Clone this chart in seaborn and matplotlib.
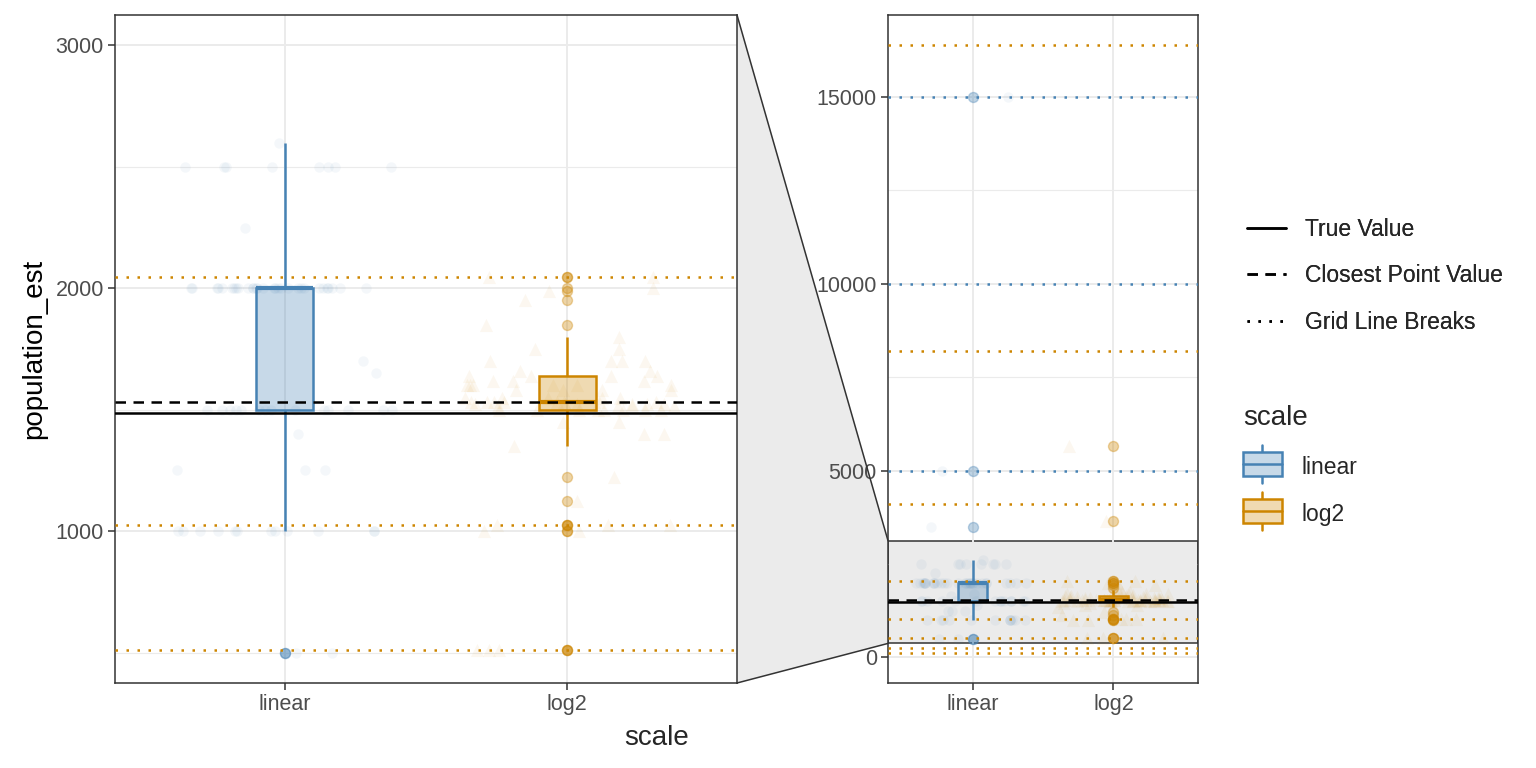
import numpy as np
import pandas as pd
import seaborn as sns
import matplotlib.pyplot as plt
from matplotlib.colors import to_rgba
from matplotlib.lines import Line2D
from matplotlib.patches import Rectangle, Polygon, Patch
from matplotlib.legend_handler import HandlerBase
from matplotlib.ticker import MultipleLocator

# estimates per scale: value + how many answers gave it
scales = ["linear", "log2"]
linear_vals = [500, 1000, 1250, 1400, 1500, 1650, 1700, 2000, 2250, 2500, 2600, 3500, 5000, 15000]
linear_counts = [2, 12, 3, 1, 14, 1, 1, 30, 1, 8, 1, 1, 1, 1]
log2_vals = [512, 1000, 1024, 1125, 1225, 1350, 1400, 1450, 1500, 1515, 1525, 1530, 1550, 1580,
             1600, 1620, 1638, 1660, 1700, 1750, 1800, 1850, 1950, 1990, 2000, 2048, 3650, 5650]
log2_counts = [3, 2, 3, 1, 1, 1, 2, 2, 8, 4, 6, 8, 5, 4, 6, 3, 4, 2, 4, 2, 1, 1, 1, 1, 1, 2, 1, 1]

true_value = 1487
closest_value = 1532
linear_breaks = [5000, 10000, 15000]
log2_breaks = [128, 256, 512, 1024, 2048, 4096, 8192, 16384]
zoom_range = [500, 3000]

colors = {"linear": "#4682B4", "log2": "#CD8500"}
fills = {"linear": "#C7D9E8", "log2": "#F0DAB2"}
markers = {"linear": "o", "log2": "^"}
msize = {"linear": 7.5, "log2": 9.5}
dotted = (0, (1, 3.4))
dashed = (0, (4.2, 3))

df = pd.concat([
    pd.DataFrame({"scale": "linear", "population_est": np.repeat(linear_vals, linear_counts)}),
    pd.DataFrame({"scale": "log2", "population_est": np.repeat(log2_vals, log2_counts)}),
], ignore_index=True)

sns.set_theme(style="white")
plt.rcParams["font.family"] = ["Liberation Sans", "DejaVu Sans"]
np.random.seed(3)

fig = plt.figure(figsize=(15.36, 7.68), dpi=100)
ax_l = fig.add_axes([115 / 1536, 85 / 768, 622 / 1536, 668 / 768])
ax_r = fig.add_axes([888 / 1536, 85 / 768, 310 / 1536, 668 / 768])

grey = "#333333"


def draw_panel(ax):
    for s in scales:
        sub = df[df.scale == s]
        sns.stripplot(data=sub, x="scale", y="population_est", order=scales, color=colors[s],
                      marker=markers[s], size=msize[s], alpha=0.06, jitter=0.4, linewidth=0, ax=ax)
        sns.boxplot(data=sub, x="scale", y="population_est", order=scales, color=fills[s],
                    linecolor=colors[s], saturation=1, width=0.2, linewidth=1.8, showcaps=False,
                    fliersize=7.2,
                    flierprops=dict(marker="o", markerfacecolor=colors[s], markeredgewidth=1,
                                    markeredgecolor=colors[s], alpha=0.35),
                    medianprops=dict(linewidth=3), ax=ax)
    # see-through box fill like the original
    for patch, s in zip(ax.patches, scales):
        patch.set_facecolor(to_rgba(colors[s], 0.3))
    for b in linear_breaks:
        ax.axhline(b, color=colors["linear"], lw=1.8, ls=dotted, zorder=4)
    for b in log2_breaks:
        ax.axhline(b, color=colors["log2"], lw=1.8, ls=dotted, zorder=4)
    ax.axhline(true_value, color="black", lw=1.8, zorder=5)
    ax.axhline(closest_value, color="black", lw=1.8, ls=dashed, zorder=5)

    ax.set_xlim(-0.6, 1.6)
    ax.set_axisbelow(True)
    ax.grid(which="major", color="#EBEBEB", lw=1.4)
    ax.grid(which="minor", axis="y", color="#EBEBEB", lw=0.8)
    for sp in ax.spines.values():
        sp.set_color(grey)
        sp.set_linewidth(1.1)
    ax.tick_params(which="major", direction="out", length=5, width=1.1, color=grey,
                   labelcolor="#4D4D4D", labelsize=15.5, pad=3, left=True, bottom=True)
    ax.tick_params(which="minor", length=0)
    ax.set_xlabel("")
    ax.set_ylabel("")


draw_panel(ax_l)
draw_panel(ax_r)

# zoomed panel
span = zoom_range[1] - zoom_range[0]
zlo, zhi = zoom_range[0] - 0.05 * span, zoom_range[1] + 0.05 * span
ax_l.set_ylim(zlo, zhi)
ax_l.yaxis.set_major_locator(MultipleLocator(1000))
ax_l.yaxis.set_minor_locator(MultipleLocator(500))
ax_l.set_ylabel("population_est", fontsize=20, color="black", labelpad=6)

# full panel
all_y = list(df.population_est) + log2_breaks + linear_breaks
lo, hi = min(all_y), max(all_y)
ax_r.set_ylim(lo - 0.05 * (hi - lo), hi + 0.05 * (hi - lo))
ax_r.yaxis.set_major_locator(MultipleLocator(5000))
ax_r.yaxis.set_minor_locator(MultipleLocator(2500))
ax_r.axhspan(zlo, zhi, facecolor="#EBEBEB", edgecolor=grey, lw=1.1, zorder=0.3)

# connector between the panels
to_fig = fig.transFigure.inverted()
p_top = to_fig.transform(ax_l.transAxes.transform((1, 1)))
p_bot = to_fig.transform(ax_l.transAxes.transform((1, 0)))
q_top = to_fig.transform(ax_r.transData.transform((ax_r.get_xlim()[0], zhi)))
q_bot = to_fig.transform(ax_r.transData.transform((ax_r.get_xlim()[0], zlo)))
fig.add_artist(Polygon([p_top, q_top, q_bot, p_bot], closed=True, facecolor="#EBEBEB",
                       edgecolor="none", transform=fig.transFigure, zorder=0))
for a, b in [(p_top, q_top), (p_bot, q_bot)]:
    fig.add_artist(Line2D([a[0], b[0]], [a[1], b[1]], color=grey, lw=1.1,
                          transform=fig.transFigure))

fig.text(656.5 / 1536, 1 - 738 / 768, "scale", ha="center", va="center", fontsize=20)


class BoxKey(HandlerBase):
    def create_artists(self, legend, orig, xd, yd, w, h, fontsize, trans):
        ec, fc = orig.get_edgecolor(), orig.get_facecolor()
        x0 = -xd
        xm = x0 + w / 2
        yc = (h - yd) / 2
        H = 1.66 * fontsize
        bh = 0.63 * H
        return [
            Line2D([xm, xm], [yc - H / 2, yc + H / 2], color=ec, lw=1.8, transform=trans),
            Rectangle((x0, yc - bh / 2), w, bh, facecolor=fc, edgecolor=ec, lw=1.8,
                      transform=trans),
            Line2D([x0, x0 + w], [yc, yc], color=ec, lw=1.8, transform=trans),
        ]


line_handles = [
    Line2D([], [], color="black", lw=1.8),
    Line2D([], [], color="black", lw=1.8, ls=dashed),
    Line2D([], [], color="black", lw=1.8, ls=dotted),
]
leg1 = fig.legend(line_handles, ["True Value", "Closest Point Value", "Grid Line Breaks"],
                  loc="upper left", bbox_to_anchor=(1247 / 1536, 1 - 218 / 768), frameon=False,
                  fontsize=16.5, handlelength=1.7, handletextpad=0.85, labelspacing=1.02,
                  borderpad=0, borderaxespad=0)
fig.add_artist(leg1)

box_handles = [Patch(facecolor=fills[s], edgecolor=colors[s]) for s in scales]
leg2 = fig.legend(box_handles, scales, title="scale", handler_map={Patch: BoxKey()},
                  loc="upper left", bbox_to_anchor=(1243 / 1536, 1 - 405 / 768), frameon=False,
                  fontsize=16.5, title_fontsize=20, handlelength=1.7, handleheight=1.3,
                  handletextpad=0.85, labelspacing=0.98, borderpad=0, borderaxespad=0)
leg2._legend_box.align = "left"

fig.savefig("out.png", dpi=100)
